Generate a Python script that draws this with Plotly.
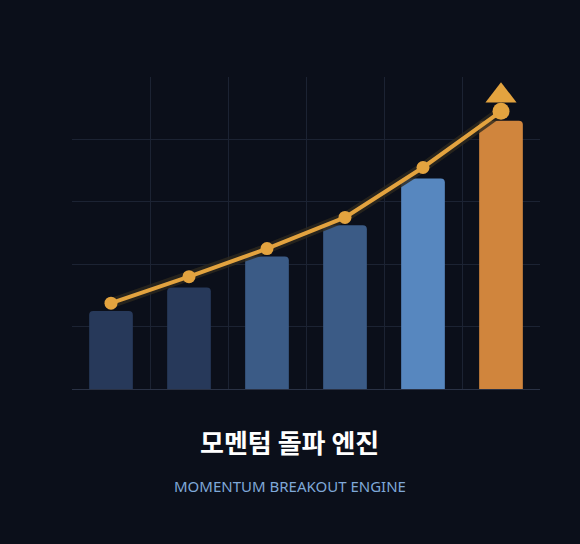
import plotly.graph_objects as go

# данные
stages = [0, 1, 2, 3, 4, 5]
bar_values = [25, 32.5, 42.5, 52.5, 67.5, 86]
bar_colors = ["#27395A", "#27395A", "#3B5B86", "#3B5B86", "#5787BF", "#D0853D"]
trend_values = [27.5, 36, 45, 55, 71, 89]
arrow_value = [94]

fig = go.Figure()

fig.add_trace(go.Bar(
    x=stages, y=bar_values, width=0.56,
    marker=dict(color=bar_colors, line=dict(width=0), cornerradius=4),
    hoverinfo="skip"
))

# тень под линией
fig.add_trace(go.Scatter(
    x=stages, y=trend_values, mode="lines",
    line=dict(color="rgba(45,40,30,0.8)", width=10),
    hoverinfo="skip"
))

fig.add_trace(go.Scatter(
    x=stages, y=trend_values, mode="lines+markers",
    line=dict(color="#E3A33F", width=4),
    marker=dict(color="#E3A33F", size=[13, 13, 13, 13, 13, 17],
                opacity=1, line=dict(width=0)),
    hoverinfo="skip"
))

# стрелка на конце
fig.add_trace(go.Scatter(
    x=stages[-1:], y=arrow_value, mode="markers",
    marker=dict(symbol="triangle-up", size=27, color="#E3A33F",
                opacity=1, line=dict(width=0)),
    hoverinfo="skip"
))

fig.add_annotation(
    text="<b>모멘텀 돌파 엔진</b>", xref="paper", yref="paper",
    x=0.4658, y=-0.167, xanchor="center", yanchor="middle", showarrow=False,
    font=dict(family="Noto Sans CJK KR", size=26, color="#FFFFFF")
)
fig.add_annotation(
    text="MOMENTUM BREAKOUT ENGINE", xref="paper", yref="paper",
    x=0.4658, y=-0.311, xanchor="center", yanchor="middle", showarrow=False,
    font=dict(family="Noto Sans", size=15, color="#7FA8D8")
)

fig.update_layout(
    width=580, height=544,
    margin=dict(l=72, r=40, t=77, b=155),
    paper_bgcolor="#0B0F1A",
    plot_bgcolor="#0B0F1A",
    showlegend=False,
    xaxis=dict(
        range=[-0.5, 5.5], tickvals=[-0.5, 0.5, 1.5, 2.5, 3.5, 4.5],
        showticklabels=False, showgrid=True, gridcolor="#1C2333", gridwidth=1,
        zeroline=False, showline=True, linecolor="#2A3245", linewidth=1,
        fixedrange=True
    ),
    yaxis=dict(
        range=[0, 100], tickvals=[20, 40, 60, 80],
        showticklabels=False, showgrid=True, gridcolor="#1C2333", gridwidth=1,
        zeroline=False, showline=False, fixedrange=True
    ),
)

fig.write_html("out.html", config={"displayModeBar": False},
               post_script="document.body.style.margin='0';")
